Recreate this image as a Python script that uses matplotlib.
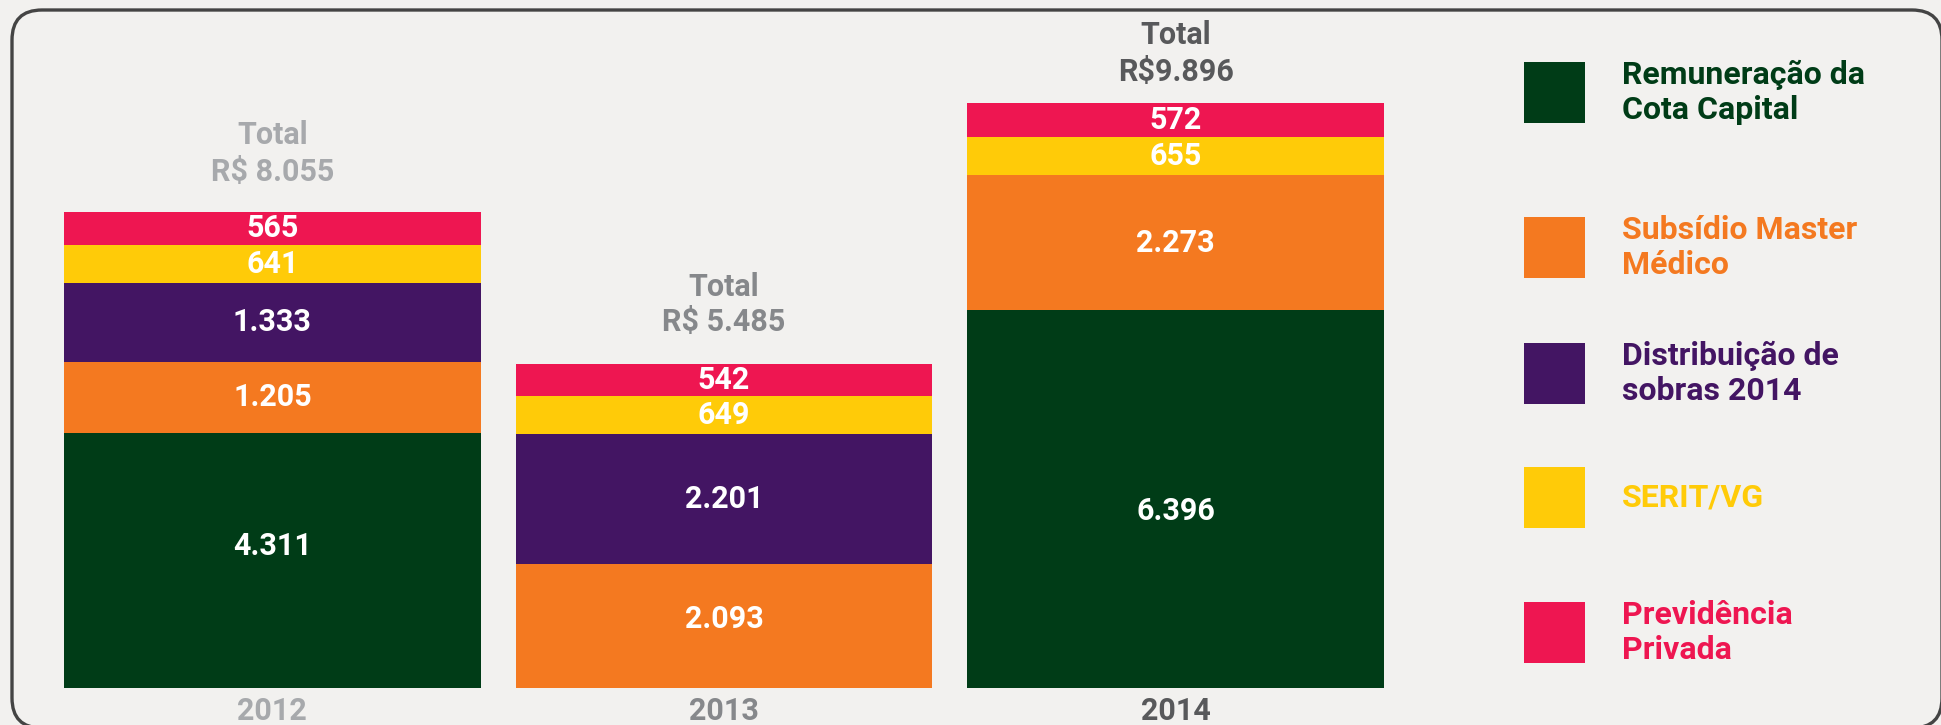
import matplotlib
matplotlib.use("Agg")
import matplotlib.pyplot as plt
from matplotlib.patches import FancyBboxPatch, Rectangle
import numpy as np

years = ["2012", "2013", "2014"]
series_names = ["Remuneração da\nCota Capital", "Subsídio Master\nMédico",
                "Distribuição de\nsobras 2014", "SERIT/VG", "Previdência\nPrivada"]
remuneracao = [4311, 0, 6396]
subsidio = [1205, 2093, 2273]
distribuicao = [1333, 2201, 0]
serit = [641, 649, 655]
previdencia = [565, 542, 572]
totals = [8055, 5485, 9896]
total_labels = ["R$ 8.055", "R$ 5.485", "R$9.896"]
value_labels = {
    0: ["4.311", "", "6.396"],
    1: ["1.205", "2.093", "2.273"],
    2: ["1.333", "2.201", ""],
    3: ["641", "649", "655"],
    4: ["565", "542", "572"],
}

colors = ["#003c17", "#f47920", "#431563", "#ffcb08", "#ee1651"]
year_colors = ["#a7a9ac", "#86888b", "#58595b"]

# label placement tweaks (pixels)
label_dy = {(0, 0): 15, (0, 2): -12, (1, 1): 7}
total_off = [(77, 40), (77, 42), (68, 31)]

FONT = ["Liberation Sans Narrow", "Roboto", "DejaVu Sans"]
plt.rcParams['font.family'] = FONT

W, H = 1941, 725
fig = plt.figure(figsize=(W / 100, H / 100), dpi=100)
fig.patch.set_facecolor("#f2f1ef")

# overlay axes in pixel coordinates (origin bottom-left) for frame and legend
lax = fig.add_axes([0, 0, 1, 1])
lax.set_xlim(0, W)
lax.set_ylim(0, H)
lax.axis("off")
lax.set_facecolor("none")

fl, ft, fr, fb = 12, 10, 1942, 728   # measured from top-left
frame = FancyBboxPatch((fl, H - fb), fr - fl, fb - ft,
                       boxstyle="round,pad=0,rounding_size=30",
                       facecolor="none", edgecolor="#444444", lw=2.4, clip_on=False)
lax.add_patch(frame)

# bar axes
px_per_unit = 0.05914
bottom_px = 688
ax = fig.add_axes([64 / W, (H - bottom_px) / H, (1384 - 64) / W, bottom_px / H])
ax.set_facecolor("none")
bw = 417 / 452
ax.set_xlim(-bw / 2, 2 + bw / 2)
ax.set_ylim(0, bottom_px / px_per_unit)

x = np.arange(len(years))
stack = [remuneracao, subsidio, distribuicao, serit, previdencia]
base = np.zeros(len(years))
for k, vals in enumerate(stack):
    vals = np.array(vals, dtype=float)
    ax.bar(x, vals, bottom=base, width=bw, color=colors[k], linewidth=0)
    for i in range(len(years)):
        if vals[i] > 0 and value_labels[k][i]:
            ax.annotate(value_labels[k][i], (x[i], base[i] + vals[i] / 2),
                        xytext=(0, label_dy.get((k, i), 0)), textcoords="offset pixels",
                        ha="center", va="center", color="white", fontsize=22,
                        fontweight="bold")
    base += vals

for i in range(len(years)):
    ax.annotate("Total", (x[i], totals[i]), xytext=(0, total_off[i][0]), textcoords="offset pixels",
                ha="center", va="center", color=year_colors[i], fontsize=22, fontweight="bold")
    ax.annotate(total_labels[i], (x[i], totals[i]), xytext=(0, total_off[i][1]), textcoords="offset pixels",
                ha="center", va="center", color=year_colors[i], fontsize=22, fontweight="bold")
    ax.annotate(years[i], (x[i], 0), xytext=(0, -23), textcoords="offset pixels",
                ha="center", va="center", color=year_colors[i], fontsize=22, fontweight="bold",
                annotation_clip=False)

ax.set_xticks([])
ax.set_yticks([])
for s in ax.spines.values():
    s.set_visible(False)

# legend (positions measured from top)
sq_tops = [62, 217, 343, 467, 602]
sq = 61
for k, name in enumerate(series_names):
    lax.add_patch(Rectangle((1524, H - sq_tops[k] - sq), sq, sq, color=colors[k], lw=0))
    lax.text(1622, H - sq_tops[k] - sq / 2, name, ha="left", va="center", color=colors[k],
             fontsize=23, fontweight="bold", linespacing=1.2)

fig.savefig("out.png", dpi=100, facecolor=fig.get_facecolor())
